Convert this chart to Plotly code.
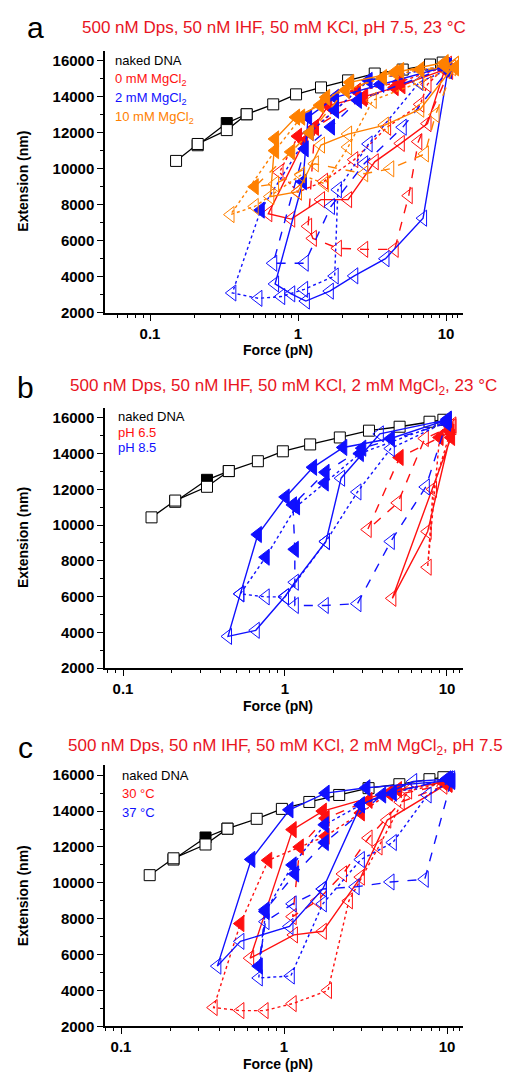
import plotly.graph_objects as go

# ---------------- data (force in pN, extension in nm) ----------------
# naked DNA, identical in all three panels
naked_f = [0.15, 0.21, 0.33, 0.45, 0.68, 0.97, 1.43, 2.18, 3.3, 5.1, 7.8, 9.5]
naked_ext = [10430, 11370, 12140, 13020, 13570, 14125, 14510, 14900, 15280, 15500, 15780, 15890]
naked2_f = [0.21, 0.33, 0.45]
naked2_ext = [11300, 12530, 13020]

# panel a: 0 mM MgCl2 (red)
a_red_solid_f = [9.8, 4.5, 2.8, 1.6, 1.1, 0.63, 0.9, 1.43, 2.18, 3.3, 4.95, 7.5, 9.9]
a_red_solid_ext = [15500, 14500, 14000, 13500, 11500, 7500, 7200, 8280, 8280, 10380, 11400, 12500, 15600]
a_red_dash_f = [10.0, 5.0, 2.75, 1.3, 1.17, 1.26, 1.86, 2.8, 4.5, 5.6, 6.5, 10.5]
a_red_dash_ext = [15600, 14600, 13900, 12300, 6800, 6130, 5580, 5520, 5520, 8500, 11500, 15400]
a_red_dot_f = [10.2, 4.8, 2.5, 1.3, 1.0, 0.75, 1.0, 1.5, 2.4, 4.0, 6.7, 7.5, 10.3]
a_red_dot_ext = [15700, 14800, 14300, 12300, 11800, 9800, 8700, 9300, 10500, 12300, 13570, 14680, 15800]
# panel a: 2 mM MgCl2 (blue)
a_blue_solid_f = [10.3, 3.6, 1.78, 1.17, 1.08, 0.7, 0.9, 1.13, 1.64, 2.4, 3.9, 7.0, 10.3]
a_blue_solid_ext = [15700, 14680, 13960, 12860, 9270, 3600, 3050, 2650, 3200, 4050, 5000, 7250, 15450]
a_blue_dash_f = [10.0, 2.54, 1.67, 1.11, 0.68, 1.11, 1.67, 2.8, 5.1, 10.3]
a_blue_dash_ext = [15600, 13790, 12310, 11100, 4750, 4750, 7900, 10270, 12300, 15450]
a_blue_dot_f = [10.0, 3.0, 1.78, 1.2, 0.56, 0.36, 0.54, 0.77, 1.1, 1.77, 1.86, 3.0, 6.6, 10.3]
a_blue_dot_ext = [15700, 14900, 13240, 12000, 7700, 3100, 2800, 2900, 3300, 4040, 8830, 11370, 14790, 15500]
# panel a: 10 mM MgCl2 (orange)
a_orange_solid_f = [9.8, 4.5, 2.25, 1.41, 0.97, 0.7, 0.65, 1.0, 1.43, 2.18, 3.86, 6.7, 11.5]
a_orange_solid_ext = [15890, 15340, 14790, 13520, 12860, 11650, 8450, 8720, 11310, 11920, 12420, 13300, 15780]
a_orange_dash_f = [11.5, 4.9, 2.1, 1.2, 0.9, 0.51, 0.7, 1.3, 2.8, 4.2, 7.2, 8.5, 11.5]
a_orange_dash_ext = [15600, 15450, 14350, 12000, 10930, 9000, 9150, 10270, 9720, 9990, 10820, 13000, 15800]
a_orange_dot_f = [9.8, 6.7, 3.75, 1.55, 1.05, 0.7, 0.35, 0.51, 1.05, 1.52, 2.18, 3.2, 6.7, 11.0]
a_orange_dot_ext = [15700, 15500, 15060, 13960, 12860, 11000, 7450, 7900, 9660, 9160, 11200, 13790, 14800, 15600]

# panel b: pH 6.5 (red)
b_red_solid_f = [10.6, 4.6, 7.6, 10.8]
b_red_solid_ext = [14900, 5900, 9640, 15500]
b_red_dash_f = [10.5, 5.1, 3.24, 4.97, 7.3, 10.5]
b_red_dash_ext = [15200, 13780, 9750, 11240, 14840, 15500]
b_red_dot_f = [10.3, 9.0, 7.6, 8.2, 10.8]
b_red_dot_ext = [15300, 14900, 7640, 12000, 15600]
# panel b: pH 8.5 (blue)
b_blue_solid_f = [10.1, 4.5, 2.29, 1.49, 1.01, 0.68, 0.53, 0.445, 0.66, 1.0, 1.15, 1.79, 2.22, 3.85, 10.1]
b_blue_solid_ext = [15900, 14840, 14340, 13230, 11570, 9470, 6150, 3770, 4110, 6000, 6800, 9080, 12620, 15100, 15900]
b_blue_dot_f = [10.0, 2.9, 1.76, 1.17, 0.76, 0.53, 0.76, 1.0, 1.79, 2.8, 4.5, 10.0]
b_blue_dot_ext = [15800, 14000, 12350, 11020, 8200, 6150, 5980, 5980, 9080, 11850, 14280, 15800]
b_blue_dash_f = [10.0, 3.0, 1.78, 1.12, 1.15, 1.15, 1.76, 2.8, 4.5, 7.4, 10.1]
b_blue_dash_ext = [15700, 14300, 12950, 11130, 8640, 5500, 5500, 5600, 9080, 12130, 15930]

# panel c: 30 C (red)
c_red_solid_f = [9.5, 5.0, 1.73, 1.13, 0.62, 1.15, 1.73, 2.96, 4.3, 9.5]
c_red_solid_ext = [15600, 15200, 14000, 12970, 5800, 7100, 7300, 10320, 13500, 15390]
c_red_dot_f = [10.0, 4.4, 2.96, 1.8, 0.8, 0.54, 0.37, 0.54, 0.76, 1.13, 1.86, 2.5, 3.8, 5.77, 10.0]
c_red_dot_ext = [15700, 15000, 13900, 12600, 11260, 7730, 3050, 2880, 2880, 3270, 4000, 9000, 12000, 15120, 15600]
c_red_dash_f = [10.2, 3.3, 1.8, 1.25, 1.13, 1.6, 2.3, 3.3, 5.2, 10.2]
c_red_dash_ext = [15500, 14600, 13600, 12000, 8120, 9000, 10500, 12500, 14500, 15500]
# panel c: 37 C (blue)
c_blue_solid_f = [10.6, 3.2, 1.8, 1.08, 0.63, 0.39, 0.54, 1.08, 1.73, 2.96, 6.2, 10.6]
c_blue_solid_ext = [15700, 15300, 15000, 14070, 11310, 5360, 6740, 7570, 9660, 14350, 15650, 15800]
c_blue_dot_f = [10.0, 4.65, 2.96, 1.78, 1.13, 0.77, 0.7, 1.1, 1.73, 2.96, 4.65, 7.6, 10.6]
c_blue_dot_ext = [15800, 15000, 14350, 13240, 11000, 8400, 4700, 4810, 8830, 11300, 12250, 14900, 15700]
c_blue_dash_f = [10.3, 4.0, 1.78, 1.17, 0.77, 0.7, 0.77, 1.13, 1.73, 2.75, 4.5, 7.3, 10.6]
c_blue_dash_ext = [15800, 14900, 12250, 10500, 8500, 5360, 7840, 8830, 9660, 9780, 10050, 10200, 15650]

# number of leading points drawn with filled triangles
a_filled = [5, 4, 5, 5, 4, 5, 6, 6, 6]
b_filled = [1, 2, 2, 6, 5, 5]
c_filled = [4, 6, 4, 5, 6, 6]

titles = ["500 nM Dps, 50 nM IHF, 50 mM KCl, pH 7.5, 23 °C",
          "500 nM Dps, 50 nM IHF, 50 mM KCl, 2 mM MgCl<sub>2</sub>, 23 °C",
          "500 nM Dps, 50 nM IHF, 50 mM KCl, 2 mM MgCl<sub>2</sub>, pH 7.5"]
a_labels = ["naked DNA", "0 mM MgCl<sub>2</sub>", "2 mM MgCl<sub>2</sub>", "10 mM MgCl<sub>2</sub>"]
b_labels = ["naked DNA", "pH 6.5", "pH 8.5"]
c_labels = ["naked DNA", "30 °C", "37 °C"]

RED = "#ff1010"
BLUE = "#1010ff"
ORANGE = "#ff8000"
FONT = "Liberation Sans"

panels = [
    [(a_red_solid_f, a_red_solid_ext, RED, "solid"), (a_red_dash_f, a_red_dash_ext, RED, "dash"),
     (a_red_dot_f, a_red_dot_ext, RED, "dot"), (a_blue_solid_f, a_blue_solid_ext, BLUE, "solid"),
     (a_blue_dash_f, a_blue_dash_ext, BLUE, "dash"), (a_blue_dot_f, a_blue_dot_ext, BLUE, "dot"),
     (a_orange_solid_f, a_orange_solid_ext, ORANGE, "solid"), (a_orange_dash_f, a_orange_dash_ext, ORANGE, "dash"),
     (a_orange_dot_f, a_orange_dot_ext, ORANGE, "dot")],
    [(b_red_solid_f, b_red_solid_ext, RED, "solid"), (b_red_dash_f, b_red_dash_ext, RED, "dash"),
     (b_red_dot_f, b_red_dot_ext, RED, "dot"), (b_blue_solid_f, b_blue_solid_ext, BLUE, "solid"),
     (b_blue_dot_f, b_blue_dot_ext, BLUE, "dot"), (b_blue_dash_f, b_blue_dash_ext, BLUE, "dash")],
    [(c_red_solid_f, c_red_solid_ext, RED, "solid"), (c_red_dot_f, c_red_dot_ext, RED, "dot"),
     (c_red_dash_f, c_red_dash_ext, RED, "dash"), (c_blue_solid_f, c_blue_solid_ext, BLUE, "solid"),
     (c_blue_dot_f, c_blue_dot_ext, BLUE, "dot"), (c_blue_dash_f, c_blue_dash_ext, BLUE, "dash")],
]
filled_counts = [a_filled, b_filled, c_filled]

fig = go.Figure()

for i, curves in enumerate(panels):
    xa = "x" if i == 0 else "x%d" % (i + 1)
    ya = "y" if i == 0 else "y%d" % (i + 1)
    # naked DNA
    fig.add_trace(go.Scatter(x=naked2_f, y=naked2_ext, xaxis=xa, yaxis=ya, mode="lines+markers",
                             line=dict(color="black", width=1.3),
                             marker=dict(symbol="square", size=11, color=["white", "black", "white"],
                                         line=dict(color="black", width=1))))
    fig.add_trace(go.Scatter(x=naked_f, y=naked_ext, xaxis=xa, yaxis=ya, mode="lines+markers",
                             line=dict(color="black", width=1.3),
                             marker=dict(symbol="square", size=11, color="white",
                                         line=dict(color="black", width=1))))
    for (f, ext, col, dash), nf in zip(curves, filled_counts[i]):
        syms = ["triangle-left" if k < nf else "triangle-left-open" for k in range(len(f))]
        fig.add_trace(go.Scatter(x=f, y=ext, xaxis=xa, yaxis=ya, mode="lines+markers",
                                 line=dict(color=col, width=1.4, dash=dash),
                                 marker=dict(symbol=syms, size=14, color=col, line=dict(color=col, width=1))))

ydoms = [[0.7157, 0.9602], [0.3843, 0.6269], [0.05, 0.2935]]
xranges = [[-1.304, 1.115], [-1.111, 1.099], [-1.098, 1.098]]
layout = dict(width=525, height=1080, showlegend=False, plot_bgcolor="white", paper_bgcolor="white",
              margin=dict(l=0, r=0, t=0, b=0))
for i in range(3):
    sx = "xaxis" if i == 0 else "xaxis%d" % (i + 1)
    sy = "yaxis" if i == 0 else "yaxis%d" % (i + 1)
    yid = "y" if i == 0 else "y%d" % (i + 1)
    xid = "x" if i == 0 else "x%d" % (i + 1)
    layout[sx] = dict(type="log", domain=[0.1848, 0.8667], range=xranges[i], anchor=yid,
                      tickvals=[0.1, 1, 10], ticktext=["0.1", "1", "10"],
                      ticks="outside", ticklen=6, tickwidth=1.3, tickcolor="black",
                      showline=True, linecolor="black", linewidth=1.5, showgrid=False, zeroline=False,
                      minor=dict(tickvals=[0.06, 0.07, 0.08, 0.09, 0.2, 0.3, 0.4, 0.5, 0.6, 0.7, 0.8, 0.9,
                                           2, 3, 4, 5, 6, 7, 8, 9, 11, 12],
                                 ticks="outside", ticklen=3, tickcolor="black", showgrid=False),
                      tickfont=dict(family=FONT, size=15, color="black", weight="bold"))
    layout[sy] = dict(domain=ydoms[i], range=[2000, 16550], anchor=xid, dtick=2000, tick0=2000,
                      tickformat="d",
                      ticks="outside", ticklen=6, tickwidth=1.3, tickcolor="black",
                      showline=True, linecolor="black", linewidth=1.5, showgrid=False, zeroline=False,
                      minor=dict(dtick=1000, ticks="outside", ticklen=3, tickcolor="black", showgrid=False),
                      tickfont=dict(family=FONT, size=15, color="black", weight="bold"))
fig.update_layout(**layout)

ann = []
letter_pos = [(0.052, 20), (0.034, 382), (0.034, 745)]
title_x = [0.507, 0.524, 0.528]
for i in range(3):
    lx, ly = letter_pos[i]
    ann.append(dict(text=["a", "b", "c"][i], x=lx, y=1 - ly / 1080, xref="paper", yref="paper",
                    showarrow=False, xanchor="center", yanchor="middle",
                    font=dict(family=FONT, size=30, color="black")))
    ann.append(dict(text=titles[i], x=title_x[i], y=1 - ly / 1080, xref="paper", yref="paper",
                    showarrow=False, xanchor="center", yanchor="middle",
                    font=dict(family=FONT, size=17, color="#e8141e")))
    ytop = [307, 665, 1026][i]
    mid = [175, 534, 895][i]
    ann.append(dict(text="<b>Force (pN)</b>", x=0.515, y=1 - (ytop + 38) / 1080, xref="paper", yref="paper",
                    showarrow=False, xanchor="center", yanchor="middle",
                    font=dict(family=FONT, size=14, color="black")))
    ann.append(dict(text="<b>Extension (nm)</b>", x=15 / 525, y=1 - mid / 1080, xref="paper", yref="paper",
                    showarrow=False, textangle=-90, xanchor="center", yanchor="middle",
                    font=dict(family=FONT, size=14, color="black")))

leg_sets = [(a_labels, ["black", RED, BLUE, ORANGE], 105, 53, 19),
            (b_labels, ["black", RED, BLUE], 108, 412, 15.5),
            (c_labels, ["black", RED, BLUE], 112, 773, 18.5)]
for labels, cols, x0, y0, step in leg_sets:
    for k, (lab, col) in enumerate(zip(labels, cols)):
        ann.append(dict(text=lab, x=x0 / 525, y=1 - (y0 + k * step) / 1080, xref="paper", yref="paper",
                        showarrow=False, xanchor="left", yanchor="middle",
                        font=dict(family=FONT, size=13, color=col)))
fig.update_layout(annotations=ann)

fig.write_html("out.html")
